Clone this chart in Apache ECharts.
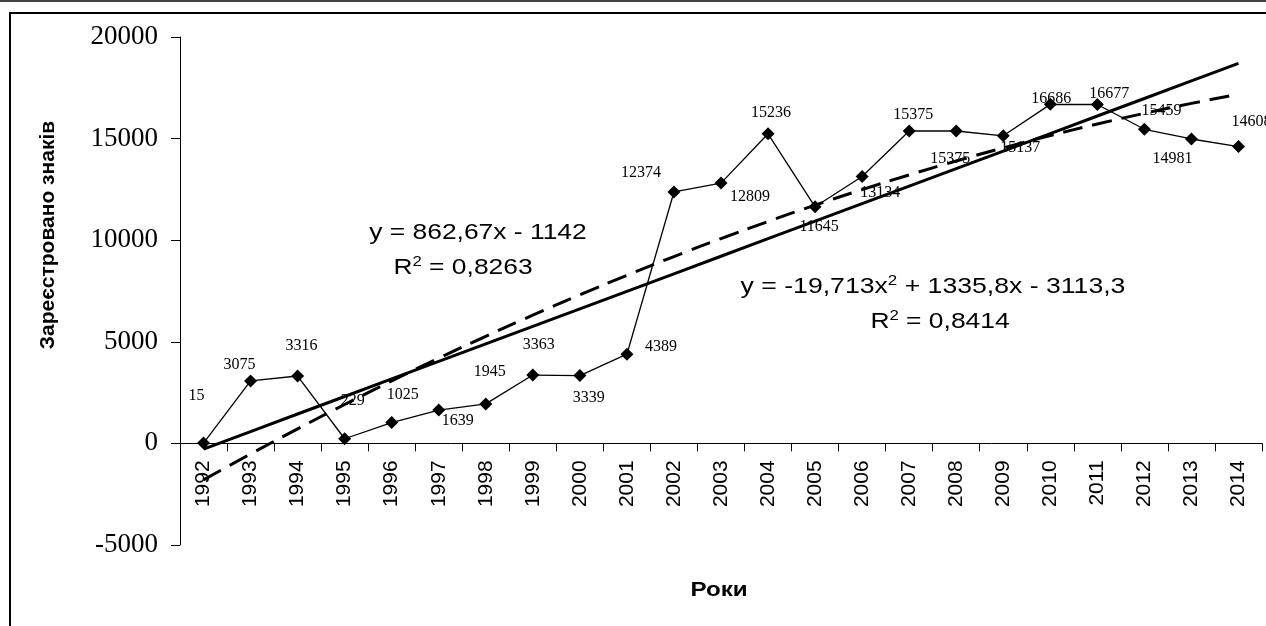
<!DOCTYPE html>
<html>
<head>
<meta charset="utf-8">
<script src="https://cdn.jsdelivr.net/npm/echarts@6/dist/echarts.min.js"></script>
<style>
  html, body { margin: 0; padding: 0; background: #fff; }
  #chart { width: 1266px; height: 626px; }
</style>
</head>
<body>
<div id="chart"></div>
<script>
const years = ['1992', '1993', '1994', '1995', '1996', '1997', '1998', '1999', '2000', '2001', '2002',
  '2003', '2004', '2005', '2006', '2007', '2008', '2009', '2010', '2011', '2012', '2013', '2014']
const registered = [15, 3075, 3316, 229, 1025, 1639, 1945, 3363, 3339, 4389, 12374,
  12809, 15236, 11645, 13134, 15375, 15375, 15137, 16686, 16677, 15459, 14981, 14608]
// trend values
const linearTrend = [-279, 583, 1446, 2309, 3171, 4034, 4897, 5759, 6622, 7485, 8347,
  9210, 10073, 10935, 11798, 12661, 13523, 14386, 15249, 16111, 16974, 17837, 18699]
const polyTrend = [-1797, -521, 717, 1915, 3073, 4192, 5271, 6312, 7312, 8273, 9195,
  10078, 10921, 11724, 12488, 13213, 13898, 14544, 15151, 15718, 16245, 16733, 17182]
const yTicks = [-5000, 0, 5000, 10000, 15000, 20000]

// where each value label sits relative to its point (px)
const labelShift = [[-7, -47], [-11, -16], [4, -30], [8, -38], [11, -28], [19, 11], [4, -32], [6, -30],
  [9, 22], [34, -7], [-33, -19], [29, 14], [3, -21], [4, 20], [18, 16], [4, -16], [-6, 28], [17, 12],
  [1, -6], [12, -11], [17, -18], [-19, 20], [13, -25]]

const chart = echarts.init(document.getElementById('chart'))

const pointData = registered.map((v, i) => ({
  value: v,
  label: { offset: labelShift[i] }
}))

const eqFont = '22px "Liberation Sans"'
const supStyle = { sup: { font: '14px "Liberation Sans"', padding: [0, 0, 12, 0] } }

chart.setOption({
  animation: false,
  grid: { left: 180, right: 4, top: 37, bottom: 81 },
  xAxis: {
    type: 'category',
    data: years,
    boundaryGap: true,
    offset: -101.6,
    axisLine: { onZero: false, lineStyle: { color: '#000', width: 1 } },
    axisTick: { show: true, length: 8, inside: false, lineStyle: { color: '#000' } },
    axisLabel: {
      rotate: 90,
      margin: 17,
      color: '#000',
      fontFamily: 'Liberation Sans',
      fontSize: 21
    },
    splitLine: { show: false }
  },
  yAxis: {
    type: 'value',
    min: yTicks[0],
    max: yTicks[yTicks.length - 1],
    interval: 5000,
    axisLine: { show: true, lineStyle: { color: '#000', width: 1 } },
    axisTick: { show: true, length: 9, lineStyle: { color: '#000' } },
    axisLabel: {
      margin: 22,
      color: '#000',
      fontFamily: 'Liberation Serif',
      fontSize: 27,
      formatter: v => String(v)
    },
    splitLine: { show: false }
  },
  series: [
    {
      type: 'line',
      data: linearTrend,
      symbol: 'none',
      lineStyle: { color: '#000', width: 3 },
      z: 2
    },
    {
      type: 'line',
      data: polyTrend,
      symbol: 'none',
      smooth: true,
      lineStyle: { color: '#000', width: 3, type: [20, 10] },
      z: 2
    },
    {
      type: 'line',
      data: pointData,
      symbol: 'diamond',
      symbolSize: [13, 13],
      itemStyle: { color: '#000' },
      lineStyle: { color: '#000', width: 1.3 },
      label: {
        show: true,
        position: 'inside',
        color: '#000',
        fontFamily: 'Liberation Serif',
        fontSize: 16
      },
      z: 3
    }
  ],
  graphic: [
    { type: 'line', shape: { x1: 0, y1: 1, x2: 1266, y2: 1 }, style: { stroke: '#444', lineWidth: 2 } },
    { type: 'rect', shape: { x: 10, y: 13, width: 1270, height: 640 }, style: { fill: 'none', stroke: '#000', lineWidth: 2 } },
    {
      type: 'text', x: 48, y: 235, rotation: Math.PI / 2,
      style: { text: 'Зареєстровано знаків', font: 'bold 21px "Liberation Sans"', fill: '#000', align: 'center', verticalAlign: 'middle' }
    },
    {
      type: 'text', x: 719, y: 590, scaleX: 1.15,
      style: { text: 'Роки', font: 'bold 21px "Liberation Sans"', fill: '#000', align: 'center', verticalAlign: 'middle' }
    },
    {
      type: 'text', x: 478, y: 233, scaleX: 1.2,
      style: { text: 'y = 862,67x - 1142', font: eqFont, fill: '#000', align: 'center', verticalAlign: 'middle' }
    },
    {
      type: 'text', x: 463, y: 268, scaleX: 1.2,
      style: { text: 'R{sup|2} = 0,8263', font: eqFont, fill: '#000', align: 'center', verticalAlign: 'middle', rich: supStyle }
    },
    {
      type: 'text', x: 933, y: 287, scaleX: 1.21,
      style: { text: 'y = -19,713x{sup|2} + 1335,8x - 3113,3', font: eqFont, fill: '#000', align: 'center', verticalAlign: 'middle', rich: supStyle }
    },
    {
      type: 'text', x: 940, y: 322, scaleX: 1.2,
      style: { text: 'R{sup|2} = 0,8414', font: eqFont, fill: '#000', align: 'center', verticalAlign: 'middle', rich: supStyle }
    }
  ]
})
</script>
</body>
</html>
